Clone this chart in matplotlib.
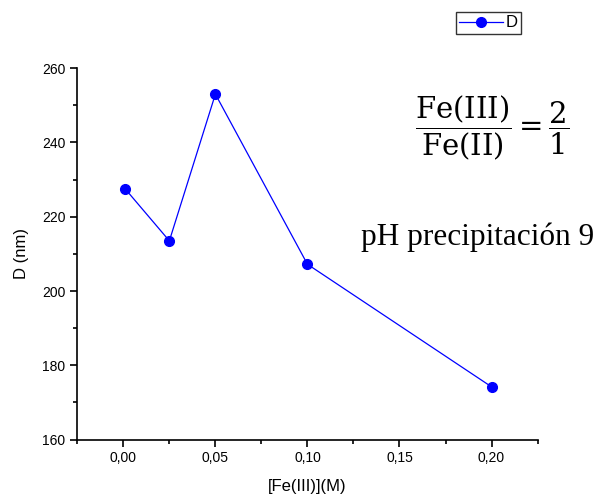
import matplotlib
matplotlib.use('Agg')
import matplotlib.pyplot as plt
from matplotlib.ticker import MultipleLocator, FuncFormatter

fe3_conc = [0.001, 0.025, 0.05, 0.10, 0.20]  # M
diameter = [227.5, 213.5, 253.0, 207.2, 174.2]  # nm

plt.rcParams['font.family'] = ['Liberation Sans', 'DejaVu Sans']
plt.rcParams['mathtext.fontset'] = 'dejavuserif'

fig = plt.figure(figsize=(6.02, 5.01), dpi=100)
ax = fig.add_axes([0.1284, 0.1226, 0.7646, 0.7414])

ax.plot(fe3_conc, diameter, color='blue', lw=0.9, marker='o', ms=7,
        label='D')

ax.set_xlim(-0.025, 0.225)
ax.set_ylim(160, 260)
ax.set_xticks([0, 0.05, 0.10, 0.15, 0.20])
ax.xaxis.set_minor_locator(MultipleLocator(0.025))
ax.yaxis.set_major_locator(MultipleLocator(20))
ax.yaxis.set_minor_locator(MultipleLocator(10))
ax.xaxis.set_major_formatter(
    FuncFormatter(lambda v, p: ('%.2f' % v).replace('.', ',')))

for side in ('top', 'right'):
    ax.spines[side].set_visible(False)
for side in ('left', 'bottom'):
    ax.spines[side].set_linewidth(1.2)
ax.tick_params(which='major', direction='out', length=5, width=1.2,
               labelsize=10)
ax.tick_params(which='minor', direction='out', length=3, width=1.2)

ax.set_xlabel('[Fe(III)](M)', fontsize=12, labelpad=10)
ax.set_ylabel('D (nm)', fontsize=12, labelpad=9)

leg = fig.legend(loc='upper left', bbox_to_anchor=(456 / 602, 1 - 12 / 501),
                 fontsize=12, frameon=True, fancybox=False, handlelength=2.6,
                 borderpad=0.2, handletextpad=0.2, borderaxespad=0)
leg.get_frame().set_edgecolor('black')
leg.get_frame().set_linewidth(1.0)

fig.text(492 / 602, 1 - 128 / 501,
         r'$\dfrac{\mathrm{Fe(III)}}{\mathrm{Fe(II)}}=\dfrac{2}{1}$',
         fontsize=21, ha='center', va='center')
fig.text(478 / 602, 1 - 245 / 501, 'pH precipitación 9',
         family=['Liberation Serif', 'DejaVu Serif'], fontsize=22.5,
         ha='center', va='baseline')

fig.savefig('out.png', dpi=100)
